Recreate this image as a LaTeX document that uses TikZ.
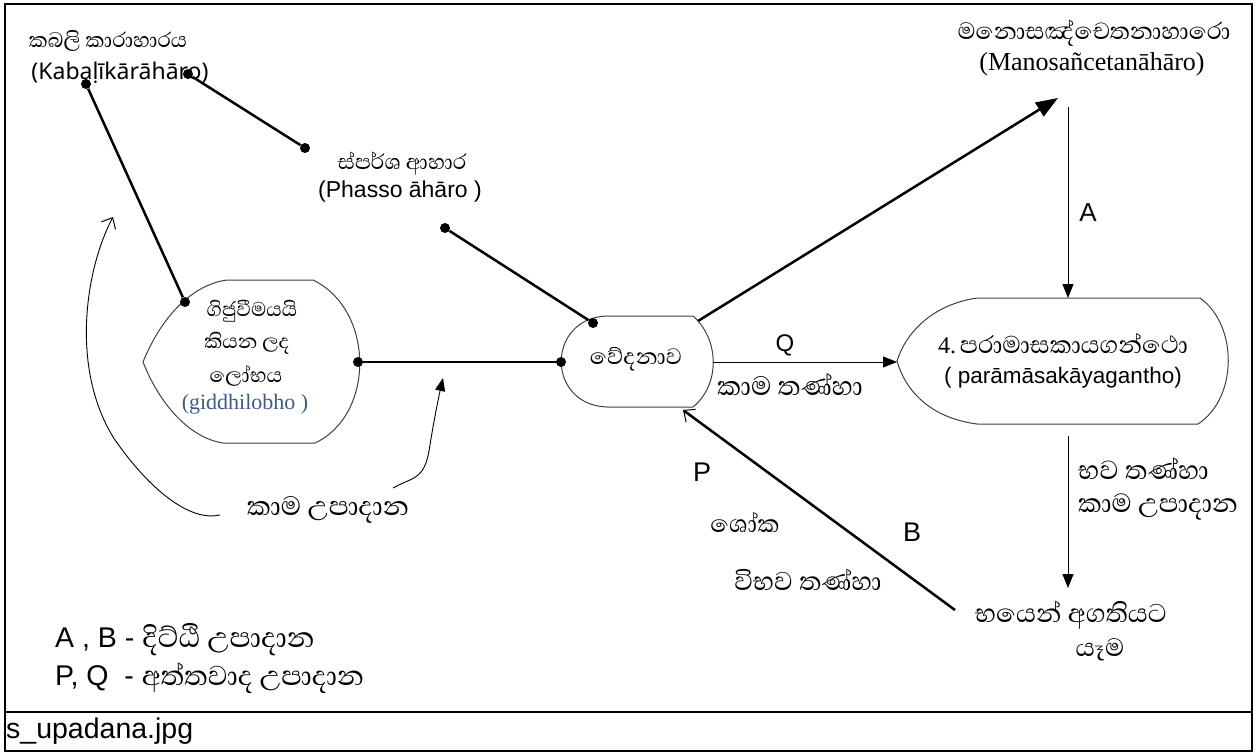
\documentclass[tikz,border=0pt]{standalone}
\usepackage{fontspec}
\usetikzlibrary{arrows.meta}
\setmainfont{Liberation Sans}
\newfontfamily\snh[Script=Sinhala]{Abhaya Libre}
\newfontfamily\tms{Liberation Serif}
\newfontfamily\seg{Noto Sans}
\newcommand\fsz[1]{\fontsize{#1}{#1}\selectfont}
\begin{document}
\begin{tikzpicture}[x=1pt,y=-1pt,
  sn/.style={font=\snh\fsz{30}, inner sep=0pt},
  ar/.style={font=\fsz{23}, inner sep=0pt},
  tm/.style={font=\tms\fsz{22}, inner sep=0pt},
  dotst/.style={circle, fill=black, inner sep=0pt, minimum size=10pt},
  thickln/.style={line width=2.5pt, black},
  thinln/.style={line width=1pt, black},
  shapeln/.style={draw=black!75, line width=1pt},
  fillhead/.style={-{Triangle[length=14pt,width=11pt]}},
  bighead/.style={-{Triangle[length=22pt,width=16pt]}},
  openhead/.style={-{Straight Barb[length=9pt,width=16pt,line width=1pt]}}
]
\useasboundingbox (0,0) rectangle (1257,754);
% frame
\draw[line width=1.5pt] (5,4) rectangle (1252,751);
\draw[line width=1.5pt] (5,712) -- (1252,712);
\node[font=\fsz{28.5}, anchor=west, inner sep=0pt] (cap) at (6,731) {s\_upadana.jpg};

% shapes
\draw[shapeln] (227,280) -- (313,280) .. controls (375,310) and (375,415) .. (315,443)
  -- (223,443) .. controls (190,438) and (160,405) .. (143,362)
  .. controls (160,320) and (190,285) .. (227,280) -- cycle;
\draw[shapeln] (607,316) -- (693,316) .. controls (720,340) and (720,385) .. (693,407)
  -- (607,407) .. controls (546,405) and (546,318) .. (607,316) -- cycle;
\draw[shapeln] (977,298) -- (1200,298) .. controls (1238,325) and (1238,398) .. (1198,424)
  -- (977,424) .. controls (930,418) and (905,390) .. (897,361)
  .. controls (905,335) and (930,305) .. (977,298) -- cycle;

% texts
\node[sn, font=\snh\fsz{26.7}] (kabS) at (108,41) {කබලි කාරාහාරය};
\node[font=\seg\fsz{23}, inner sep=0pt] (kabL) at (120,73) {(Kabaḷīkārāhāro)};
\node[sn, font=\snh\fsz{27}] (phS) at (402,164) {ස්පර්ශ ආහාර};
\node[ar] (phL) at (400,192) {(Phasso āhāro )};
\node[sn, font=\snh\fsz{30}] (manS) at (1094,33) {මනොසඤ්චෙතනාහාරො};
\node[tm, font=\tms\fsz{26}] (manL) at (1092,64) {(Manosañcetanāhāro)};
\node[sn, font=\snh\fsz{25.5}] (l1) at (252,311) {ගිජුවීමයයි};
\node[sn, font=\snh\fsz{25.5}] (l2) at (247,343) {කියන ලද};
\node[sn, font=\snh\fsz{26}] (l3) at (246,376) {ලෝභය};
\node[tm, text={rgb,255:red,60;green,90;blue,140}] (l4) at (245,404) {(giddhilobho )};
\node[sn, font=\snh\fsz{28.5}] (ved) at (636,359) {වේදනාව};
\node[inner sep=0pt] (par1) at (1063,344) {{\tms\fsz{24}4.} {\snh\fsz{31}පරාමාසකායගන්ථො}};
\node[ar, font=\fsz{22.5}] (par2) at (1063,378) {( parāmāsakāyagantho)};
\node[ar, font=\fsz{24}] (Q) at (785,345) {Q};
\node[sn, font=\snh\fsz{34}] (kt) at (790,385) {කාම තණ්හා};
\node[ar, font=\fsz{26}] (A) at (1088,213) {A};
\node[sn, font=\snh\fsz{33.5}, anchor=west] (bt1) at (1078,469) {භව තණ්හා};
\node[sn, font=\snh\fsz{33.5}, anchor=west] (bt2) at (1078,507) {කාම උපාදාන};
\node[sn, font=\snh\fsz{33}] (bh1) at (1071,615) {භයෙන් අගතියට};
\node[sn, font=\snh\fsz{32}] (bh2) at (1100,650) {යෑම};
\node[ar, font=\fsz{27}] (P) at (702,472) {P};
\node[sn, font=\snh\fsz{31}] (sho) at (745,522) {ශෝක};
\node[ar, font=\fsz{27}] (B) at (912,532) {B};
\node[sn, font=\snh\fsz{33}] (vib) at (808,580) {විභව තණ්හා};
\node[sn, font=\snh\fsz{34}] (kamL) at (328,510) {කාම උපාදාන};
\node[ar, font=\fsz{28.5}, anchor=west] (lg1) at (55,640) {A , B - {\snh\fsz{36}දිට්ඨි උපාදාන}};
\node[ar, font=\fsz{28.5}, anchor=west] (lg2) at (55,678) {P, Q~ - {\snh\fsz{35}අත්තවාද උපාදාන}};

% dots
\node[dotst] (dk1) at (86,84) {};
\node[dotst] (dk2) at (188,74) {};
\node[dotst] (dph1) at (305,148) {};
\node[dotst] (dph2) at (445,228) {};
\node[dotst] (dl1) at (185,302) {};
\node[dotst] (dl2) at (358,362) {};
\node[dotst] (dv1) at (593,323) {};
\node[dotst] (dv2) at (561,362) {};

% coordinates
\coordinate (vTR) at (698,321);
\coordinate (manTip) at (1058,98);
\coordinate (aTop) at (1068,107);
\coordinate (pTop) at (1068,298);
\coordinate (vR) at (713,362);
\coordinate (pL) at (897,362);
\coordinate (pBot) at (1068,436);
\coordinate (bhTop) at (1068,588);
\coordinate (bStart) at (955,610);
\coordinate (vB) at (683,410);
\coordinate (c1s) at (220,515);
\coordinate (c1e) at (113,217);
\coordinate (c2s) at (393,488);
\coordinate (c2e) at (443,378);

% connectors
\draw[thickln] (dk1) -- (dl1);
\draw[thickln] (dk2) -- (dph1);
\draw[thickln] (dph2) -- (dv1);
\draw[thickln] (dl2) -- (dv2);
\draw[thickln, bighead] (vTR) -- (manTip);
\draw[thinln, fillhead] (aTop) -- (pTop);
\draw[thinln, fillhead] (vR) -- (pL);
\draw[thinln, fillhead] (pBot) -- (bhTop);
\draw[thickln, openhead] (bStart) -- (vB);
\draw[line width=0.9pt, openhead] (c1s) .. controls (190,522) and (150,490) .. (115,440)
  .. controls (70,370) and (85,270) .. (c1e);
\draw[line width=0.9pt, -{Triangle[length=13pt,width=10pt]}] (c2s) .. controls (415,476) and (425,480) .. (430,445)
  .. controls (434,420) and (438,400) .. (c2e);
\end{tikzpicture}
\end{document}
